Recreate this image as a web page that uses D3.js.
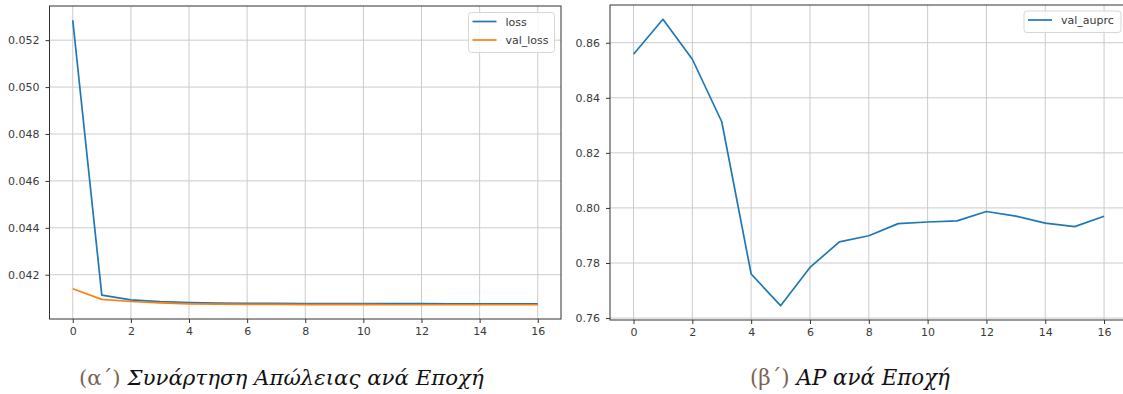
<!DOCTYPE html>
<html>
<head>
<meta charset="utf-8">
<script src="https://cdn.jsdelivr.net/npm/d3@7"></script>
<style>
  body { margin: 0; background: #fff; }
  .tick text { font-family: 'DejaVu Sans', sans-serif; font-size: 11px; fill: #3a3a3a; }
  .legend text { font-family: 'DejaVu Sans', sans-serif; font-size: 11px; fill: #3a3a3a; }
</style>
</head>
<body>
<script>
// epochs on the x axis
const epochs = [0, 1, 2, 3, 4, 5, 6, 7, 8, 9, 10, 11, 12, 13, 14, 15, 16];
const xTicks = [0, 2, 4, 6, 8, 10, 12, 14, 16];

// left panel: loss / val_loss
const loss = [0.05285, 0.04113, 0.04093, 0.04085, 0.04081, 0.04079, 0.04078, 0.04078, 0.04077,
  0.04077, 0.04077, 0.04077, 0.04077, 0.04076, 0.04076, 0.04076, 0.04076];
const valLoss = [0.0414, 0.04095, 0.04086, 0.0408, 0.04076, 0.04075, 0.04074, 0.04074, 0.04073,
  0.04073, 0.04073, 0.04072, 0.04072, 0.04072, 0.04072, 0.04072, 0.04072];
const lossTicks = [0.042, 0.044, 0.046, 0.048, 0.05, 0.052];

// right panel: val_auprc
const valAuprc = [0.8558, 0.8685, 0.854, 0.8313, 0.776, 0.7645, 0.7784, 0.7877, 0.7899,
  0.7943, 0.7949, 0.7953, 0.7987, 0.797, 0.7945, 0.7932, 0.797];
const auprcTicks = [0.76, 0.78, 0.8, 0.82, 0.84, 0.86];

const captions = [
  { num: '(α΄) ', text: 'Συνάρτηση Απώλειας ανά Εποχή', x: 79, w: 405 },
  { num: '(β΄) ', text: 'AP ανά Εποχή', x: 750, w: 200 }
];

const width = 1123;
const height = 394;

const svg = d3.select('body').append('svg')
  .attr('width', width)
  .attr('height', height);

// matplotlib style 5% padding
function padded(values) {
  const [lo, hi] = d3.extent(values);
  const m = (hi - lo) * 0.05;
  return [lo - m, hi + m];
}

function drawPanel(opt) {
  const g = svg.append('g');
  const x = d3.scaleLinear().domain(padded(epochs)).range([opt.left, opt.right]);
  const allVals = opt.series.flatMap(s => s.values);
  const y = d3.scaleLinear().domain(padded(allVals)).range([opt.bottom, opt.top]);

  // grid
  g.append('g').selectAll('line').data(xTicks).join('line')
    .attr('x1', d => x(d)).attr('x2', d => x(d))
    .attr('y1', opt.top).attr('y2', opt.bottom)
    .attr('stroke', '#cbcbcb').attr('stroke-width', 1);
  g.append('g').selectAll('line').data(opt.yTicks).join('line')
    .attr('x1', opt.left).attr('x2', opt.right)
    .attr('y1', d => y(d)).attr('y2', d => y(d))
    .attr('stroke', '#cbcbcb').attr('stroke-width', 1);

  // lines
  const line = d3.line().x((d, i) => x(epochs[i])).y(d => y(d));
  opt.series.forEach(s => {
    g.append('path')
      .datum(s.values)
      .attr('d', line)
      .attr('fill', 'none')
      .attr('stroke', s.color)
      .attr('stroke-width', 1.7)
      .attr('stroke-linejoin', 'round');
  });

  // axes
  const xAxis = d3.axisBottom(x).tickValues(xTicks).tickSize(4).tickPadding(4).tickFormat(d3.format('d'));
  g.append('g')
    .attr('transform', `translate(0,${opt.bottom})`)
    .call(xAxis)
    .call(a => a.select('.domain').remove())
    .call(a => a.selectAll('.tick line').attr('stroke', '#333'));

  const yAxis = d3.axisLeft(y).tickValues(opt.yTicks).tickSize(4).tickPadding(6).tickFormat(d3.format(opt.yFormat));
  g.append('g')
    .attr('transform', `translate(${opt.left},0)`)
    .call(yAxis)
    .call(a => a.select('.domain').remove())
    .call(a => a.selectAll('.tick line').attr('stroke', '#333'));

  // spines
  g.append('rect')
    .attr('x', opt.left).attr('y', opt.top)
    .attr('width', opt.right - opt.left).attr('height', opt.bottom - opt.top)
    .attr('fill', 'none').attr('stroke', '#333').attr('stroke-width', 1);

  // legend
  const lg = g.append('g').attr('class', 'legend');
  lg.append('rect')
    .attr('x', opt.legend.x).attr('y', opt.legend.y)
    .attr('width', opt.legend.w).attr('height', 3 + opt.series.length * 18.5)
    .attr('rx', 3)
    .attr('fill', 'rgba(255,255,255,0.85)')
    .attr('stroke', '#d6d6d6');
  opt.series.forEach((s, i) => {
    const ly = opt.legend.y + 9 + i * 18.5;
    lg.append('line')
      .attr('x1', opt.legend.x + 4).attr('x2', opt.legend.x + 28)
      .attr('y1', ly).attr('y2', ly)
      .attr('stroke', s.color).attr('stroke-width', 1.7);
    lg.append('text')
      .attr('x', opt.legend.x + 37).attr('y', ly + 4)
      .text(s.name);
  });
}

drawPanel({
  left: 49.5, right: 561, top: 6, bottom: 319,
  series: [
    { name: 'loss', values: loss, color: '#1f77b4' },
    { name: 'val_loss', values: valLoss, color: '#ff7f0e' }
  ],
  yTicks: lossTicks, yFormat: '.3f',
  legend: { x: 468.5, y: 12.5, w: 86 }
});

drawPanel({
  left: 610, right: 1127.6, top: 5, bottom: 320,
  series: [
    { name: 'val_auprc', values: valAuprc, color: '#1f77b4' }
  ],
  yTicks: auprcTicks, yFormat: '.2f',
  legend: { x: 1024, y: 11, w: 97 }
});

// captions, scaled so each fits the width it has in the figure
captions.forEach(c => {
  const t = svg.append('text')
    .attr('x', c.x).attr('y', 385)
    .style('font-family', "'DejaVu Serif', serif")
    .style('font-size', '20px');
  t.append('tspan').attr('fill', '#7a6450').text(c.num);
  t.append('tspan').attr('fill', '#111').style('font-style', 'italic').text(c.text);
  const len = t.node().getComputedTextLength();
  t.style('font-size', (20 * c.w / len).toFixed(2) + 'px');
});
</script>
</body>
</html>
